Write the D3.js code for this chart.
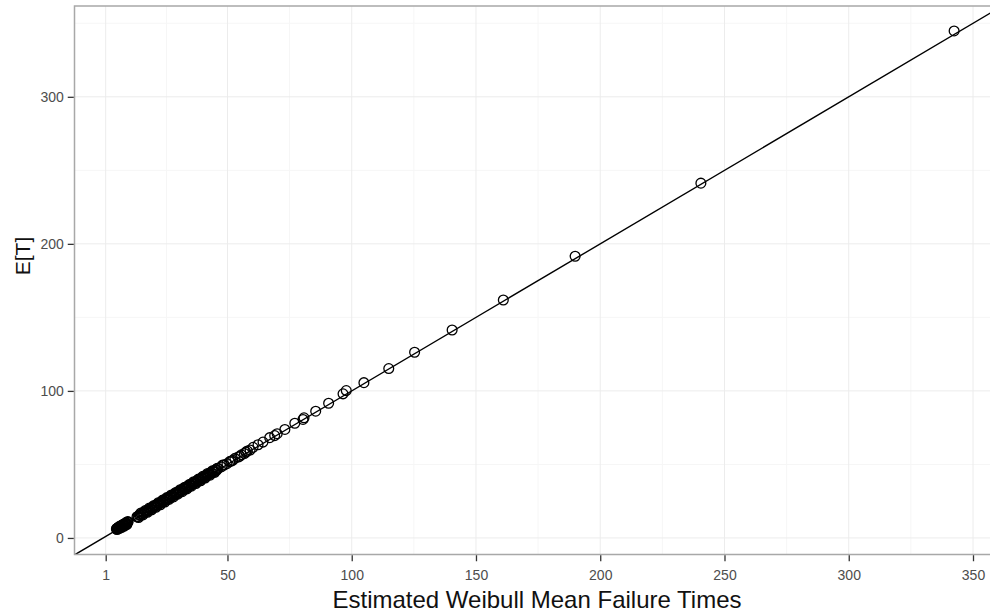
<!DOCTYPE html>
<html>
<head>
<meta charset="utf-8">
<script src="https://cdn.jsdelivr.net/npm/d3@7"></script>
<style>
  body { margin: 0; background: #fff; }
  text { font-family: "Liberation Sans", Arial, sans-serif; }
</style>
</head>
<body>
<div id="chart"></div>
<script>
// estimated Weibull mean failure times (x) and E[T] (y)
const estMean = [
  5.3, 5.5, 5.8, 6.0, 6.2, 6.4, 6.7, 6.9, 7.1, 7.4,
  7.6, 7.9, 8.1, 8.4, 8.6, 8.9, 9.1, 9.4, 9.7, 10.0,
  5.6, 6.1, 6.6, 7.0, 7.5, 8.0, 8.5, 9.0, 9.5, 9.9,
  13.6, 14.0, 14.5, 14.9, 15.3, 15.8, 16.2, 16.6, 17.1, 17.5,
  17.9, 18.4, 18.8, 19.3, 19.7, 20.1, 20.6, 21.0, 21.5, 21.9,
  22.3, 22.8, 23.2, 23.7, 24.1, 24.5, 25.0, 25.4, 25.9, 26.3,
  26.8, 27.2, 27.6, 28.1, 28.5, 29.0, 29.4, 29.9, 30.3, 30.8,
  31.2, 31.7, 32.1, 32.6, 33.0, 33.5, 33.9, 34.4, 34.8, 35.3,
  35.8, 36.2, 36.7, 37.1, 37.6, 38.1, 38.5, 39.0, 39.5, 39.9,
  40.4, 40.9, 41.3, 41.8, 42.3, 42.8, 43.2, 43.7, 44.2, 44.7,
  45.2, 45.7, 46.2,
  14.2, 15.1, 16.0, 16.9, 17.8, 18.6, 19.5, 20.4, 21.2, 22.1,
  23.0, 23.9, 24.8, 25.6, 26.5, 27.4, 28.3, 29.2, 30.0, 30.9,
  31.8, 32.8, 33.7, 34.6, 35.5, 36.4, 37.3, 38.3, 39.2, 40.1,
  41.0, 42.0, 43.0, 43.9, 44.9, 45.9,
  47.5, 48.0, 48.6, 49.8, 50.9, 51.5, 52.1, 53.0, 54.3, 55.0,
  55.6, 56.8, 57.4, 58.0, 59.1,
  60.3, 62.3, 64.3, 67.0, 69.0, 70.0, 73.1, 77.1, 80.4, 80.8,
  85.5, 90.7, 96.5, 97.8, 104.9, 114.9, 125.3, 140.4, 161.0, 189.9,
  240.5, 342.4
];
const expT = [
  6.1, 6.4, 6.6, 6.9, 7.0, 7.3, 7.5, 7.8, 8.0, 8.2,
  8.5, 8.7, 9.0, 9.2, 9.5, 9.7, 10.0, 10.2, 10.6, 10.8,
  5.7, 7.4, 6.5, 8.3, 7.2, 9.2, 8.1, 10.3, 9.1, 11.2,
  14.4, 14.6, 15.5, 15.6, 16.2, 16.4, 17.3, 17.2, 18.1, 18.0,
  19.0, 18.9, 19.9, 19.8, 20.8, 20.6, 21.7, 21.5, 22.6, 22.4,
  23.5, 23.3, 24.4, 24.2, 25.3, 25.0, 26.2, 25.9, 27.1, 26.8,
  28.0, 27.7, 28.9, 28.6, 29.8, 29.5, 30.7, 30.4, 31.6, 31.3,
  32.5, 32.2, 33.4, 33.1, 34.3, 34.0, 35.2, 34.9, 36.1, 35.8,
  37.0, 36.8, 37.9, 37.7, 38.8, 38.6, 39.8, 39.5, 40.7, 40.5,
  41.6, 41.4, 42.5, 42.4, 43.5, 43.3, 44.5, 44.3, 45.4, 45.2,
  46.4, 46.2, 47.3,
  13.9, 16.9, 15.7, 18.6, 17.5, 20.4, 19.1, 22.1, 20.9, 23.9,
  22.6, 25.7, 24.4, 27.4, 26.2, 29.2, 27.9, 30.9, 29.8, 32.7,
  31.5, 34.5, 33.4, 36.3, 35.2, 38.2, 37.0, 40.0, 38.9, 41.9,
  40.8, 43.8, 42.7, 45.6, 44.6, 47.4,
  48.3, 49.5, 49.6, 50.5, 51.9, 52.3, 52.8, 54.1, 55.0, 55.6,
  56.5, 57.4, 58.4, 59.1, 59.8,
  61.6, 63.4, 65.2, 68.2, 69.6, 70.9, 73.8, 78.0, 80.6, 81.7,
  86.2, 91.6, 98.0, 100.2, 105.6, 115.2, 126.3, 141.4, 161.8, 191.6,
  241.3, 344.8
];
const xTicks = [1, 50, 100, 150, 200, 250, 300, 350];
const xMinor = [25.5, 75, 125, 175, 225, 275, 325];
const yTicks = [0, 100, 200, 300];
const yMinor = [50, 150, 250, 350];
const xTitle = "Estimated Weibull Mean Failure Times";
const yTitle = "E[T]";

const W = 990, H = 615;
const panel = {left: 74.5, right: 996, top: 6, bottom: 554.5};

const pts = estMean.map((d, i) => ({x: d, y: expT[i]}));

// ggplot-style 5% expansion
const pad = e => { const r = e[1] - e[0]; return [e[0] - 0.05 * r, e[1] + 0.05 * r]; };

const x = d3.scaleLinear().domain(pad(d3.extent(estMean))).range([panel.left, panel.right]);
const y = d3.scaleLinear().domain(pad(d3.extent(expT))).range([panel.bottom, panel.top]);

const svg = d3.select("#chart").append("svg")
  .attr("width", W).attr("height", H)
  .style("display", "block");

// the picture is cut off on the right, so the panel runs past the edge
const edge = W + 10;

svg.append("clipPath").attr("id", "clip")
  .append("rect")
  .attr("x", panel.left).attr("y", panel.top)
  .attr("width", edge - panel.left).attr("height", panel.bottom - panel.top);

// grid
const grid = svg.append("g");
grid.selectAll(".vmin").data(xMinor).join("line")
  .attr("x1", d => x(d)).attr("x2", d => x(d))
  .attr("y1", panel.top).attr("y2", panel.bottom)
  .attr("stroke", "#f6f6f6").attr("stroke-width", 1);
grid.selectAll(".hmin").data(yMinor).join("line")
  .attr("y1", d => y(d)).attr("y2", d => y(d))
  .attr("x1", panel.left).attr("x2", edge)
  .attr("stroke", "#f6f6f6").attr("stroke-width", 1);
grid.selectAll(".vmaj").data(xTicks).join("line")
  .attr("x1", d => x(d)).attr("x2", d => x(d))
  .attr("y1", panel.top).attr("y2", panel.bottom)
  .attr("stroke", "#ececec").attr("stroke-width", 1);
grid.selectAll(".hmaj").data(yTicks).join("line")
  .attr("y1", d => y(d)).attr("y2", d => y(d))
  .attr("x1", panel.left).attr("x2", edge)
  .attr("stroke", "#ececec").attr("stroke-width", 1);

// y = x reference line
const plot = svg.append("g").attr("clip-path", "url(#clip)");
const xd = x.domain();
plot.append("path")
  .datum([xd[0], xd[1] + 10])
  .attr("fill", "none")
  .attr("stroke", "#000")
  .attr("stroke-width", 1.4)
  .attr("d", d3.line().x(d => x(d)).y(d => y(d)));

plot.selectAll("circle").data(pts).join("circle")
  .attr("cx", d => x(d.x))
  .attr("cy", d => y(d.y))
  .attr("r", 4.9)
  .attr("fill", "none")
  .attr("stroke", "#000")
  .attr("stroke-width", 1.3);

// panel border: left, top, bottom
svg.append("path")
  .attr("d", "M" + edge + "," + panel.top + "H" + panel.left + "V" + panel.bottom + "H" + edge)
  .attr("fill", "none").attr("stroke", "#a8a8a8").attr("stroke-width", 1.5);

// axes
const xAxis = svg.append("g")
  .attr("transform", "translate(0," + (panel.bottom + 0.75) + ")")
  .call(d3.axisBottom(x).tickValues(xTicks).tickFormat(d3.format("d")).tickSize(6).tickPadding(9));
const yAxis = svg.append("g")
  .attr("transform", "translate(" + (panel.left - 0.75) + ",0)")
  .call(d3.axisLeft(y).tickValues(yTicks).tickFormat(d3.format("d")).tickSize(6).tickPadding(4));
[xAxis, yAxis].forEach(a => {
  a.select(".domain").remove();
  a.selectAll(".tick line").attr("stroke", "#333").attr("stroke-width", 1.3);
  a.selectAll(".tick text").attr("fill", "#4d4d4d").style("font-size", "14px");
});
yAxis.selectAll(".tick text").attr("dy", "0.36em");

svg.append("text")
  .attr("x", 537)
  .attr("y", 608)
  .attr("text-anchor", "middle")
  .style("font-size", "24px")
  .attr("fill", "#111")
  .text(xTitle);

svg.append("text")
  .attr("transform", "translate(30,256) rotate(-90)")
  .attr("text-anchor", "middle")
  .style("font-size", "21px")
  .attr("fill", "#111")
  .text(yTitle);
</script>
</body>
</html>
